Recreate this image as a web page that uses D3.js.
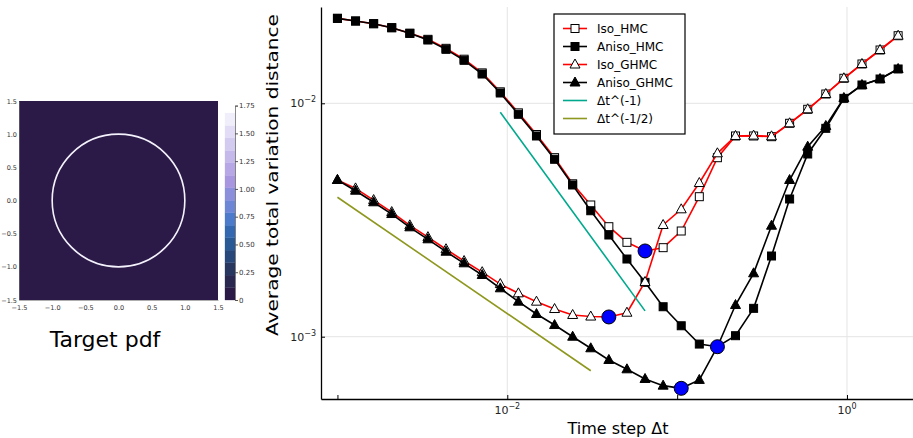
<!DOCTYPE html>
<html>
<head>
<meta charset="utf-8">
<script src="https://cdnjs.cloudflare.com/ajax/libs/d3/7.8.5/d3.min.js"></script>
<style>
body { margin: 0; background: #fff; }
text { font-family: "DejaVu Sans", sans-serif; }
</style>
</head>
<body>
<div id="chart"></div>
<script>
// time steps (log spaced)
var dt = [0.001, 0.001278, 0.0016333, 0.0020874, 0.0026676, 0.0034092, 0.0043569, 0.0055681,
  0.007116, 0.0090941, 0.011622, 0.014853, 0.018982, 0.024258, 0.031002, 0.03962,
  0.050634, 0.06471, 0.082698, 0.10569, 0.13507, 0.17261, 0.2206, 0.28192,
  0.35944, 0.45936, 0.58707, 0.75024, 0.95849, 1.2248, 1.5652, 2.0];

var isoHMC = [0.02312, 0.02252, 0.02193, 0.02108, 0.01995, 0.0188, 0.0172, 0.01545,
  0.0135, 0.0112, 0.0091, 0.00735, 0.00585, 0.00452, 0.003667, 0.00296,
  0.002537, 0.00233, 0.002407, 0.002837, 0.00398, 0.005847, 0.007244, 0.007244,
  0.007194, 0.00821, 0.009426, 0.01096, 0.0128, 0.01474, 0.01692, 0.01948];

var anisoHMC = [0.02312, 0.02252, 0.02193, 0.02108, 0.01995, 0.01867, 0.01703, 0.01528,
  0.01335, 0.01107, 0.008972, 0.007244, 0.005756, 0.004467, 0.003465, 0.002727,
  0.002152, 0.00171, 0.001344, 0.001114, 0.00093, 0.000906, 0.00101, 0.001323,
  0.002217, 0.00389, 0.006064, 0.007813, 0.0105, 0.01198, 0.01271, 0.01403];

var isoGHMC = [0.004692, 0.00432, 0.00385, 0.00342, 0.003, 0.00267, 0.00237, 0.00211,
  0.00189, 0.001681, 0.001534, 0.001413, 0.001314, 0.001239, 0.00122, 0.001215,
  0.001267, 0.001716, 0.00301, 0.003514, 0.004555, 0.006106, 0.007244, 0.00727,
  0.00722, 0.00821, 0.009426, 0.01096, 0.0128, 0.01474, 0.01692, 0.01948];

var anisoGHMC = [0.004692, 0.004222, 0.003766, 0.003354, 0.002942, 0.002614, 0.002313, 0.002063,
  0.001838, 0.001612, 0.001413, 0.001251, 0.001122, 0.001, 0.000892, 0.000795,
  0.000725, 0.000659, 0.000617, 0.000601, 0.000653, 0.000906, 0.001367, 0.001869,
  0.002989, 0.004692, 0.006519, 0.007994, 0.01054, 0.01198, 0.01271, 0.01403];

// reference slopes
var refInvX = [0.0090941, 0.06471];
var refInvY = [0.00915, 0.00129];
var refSqrtX = [0.001, 0.031002];
var refSqrtY = [0.003957, 0.0007147];

var xTicks = [0.001, 0.01, 0.1, 1];
var xTickLabels = ['', '−2', '', '0'];
var yTicks = [0.001, 0.01];
var yTickLabels = ['−3', '−2'];

// target pdf panel
var heatTicks = [-1.5, -1.0, -0.5, 0.0, 0.5, 1.0, 1.5];
var ringRadius = 1;
var cbarTicks = [0, 0.25, 0.5, 0.75, 1.0, 1.25, 1.5, 1.75];
var cbarLevels = [0, 0.112, 0.224, 0.337, 0.449, 0.561, 0.673, 0.785, 0.898, 1.01, 1.122,
  1.234, 1.346, 1.459, 1.571, 1.683];
var cbarColors = ['#2b1a47', '#2a2850', '#283760', '#28477a', '#2a5a96', '#3468b0', '#4d7bcb',
  '#6e86d6', '#8b8fdc', '#a896e0', '#b7a7e6', '#c5b9ec', '#d4cbf1', '#e2dcf6', '#f0eefa'];

var width = 913, height = 438;

var svg = d3.select('#chart').append('svg')
  .attr('width', width)
  .attr('height', height);

// ---------- left panel ----------
var hx = d3.scaleLinear().domain([-1.5, 1.5]).range([19, 218]);
var hy = d3.scaleLinear().domain([-1.5, 1.5]).range([300, 101]);

svg.append('rect')
  .attr('x', hx(-1.5)).attr('y', hy(1.5))
  .attr('width', hx(1.5) - hx(-1.5)).attr('height', hy(-1.5) - hy(1.5))
  .attr('fill', cbarColors[0]);

svg.append('ellipse')
  .attr('cx', hx(0)).attr('cy', hy(0))
  .attr('rx', hx(ringRadius) - hx(0)).attr('ry', hy(0) - hy(ringRadius))
  .attr('fill', 'none').attr('stroke', '#f4f2fc').attr('stroke-width', 1.6);

var hAxisL = svg.append('g').attr('transform', 'translate(' + hx(-1.5) + ',0)')
  .call(d3.axisLeft(hy).tickValues(heatTicks).tickFormat(d3.format('.1f')).tickSize(0).tickPadding(2));
var hAxisB = svg.append('g').attr('transform', 'translate(0,' + hy(-1.5) + ')')
  .call(d3.axisBottom(hx).tickValues(heatTicks).tickFormat(d3.format('.1f')).tickSize(0).tickPadding(5));
[hAxisL, hAxisB].forEach(a => {
  a.select('.domain').attr('stroke', '#777').attr('stroke-width', 0.6);
  a.selectAll('text').attr('font-size', 6.5).attr('fill', '#333').attr('font-family', '"DejaVu Sans", sans-serif');
});

// colorbar
var cy = d3.scaleLinear().domain([0, 1.75]).range([300, 105.6]);
svg.append('g').selectAll('rect')
  .data(cbarColors)
  .enter().append('rect')
  .attr('x', 225)
  .attr('y', (d, i) => cy(cbarLevels[i + 1]))
  .attr('width', 10)
  .attr('height', (d, i) => cy(cbarLevels[i]) - cy(cbarLevels[i + 1]))
  .attr('fill', d => d)
  .attr('stroke', d => d).attr('stroke-width', 0.3);

var cAxis = svg.append('g').attr('transform', 'translate(235,0)')
  .call(d3.axisRight(cy).tickValues(cbarTicks).tickSize(3).tickPadding(1)
    .tickFormat(d => d === 0 ? '0' : d.toFixed(2)));
cAxis.select('.domain').attr('stroke', '#555').attr('stroke-width', 0.7);
cAxis.selectAll('line').attr('stroke', '#555');
cAxis.selectAll('text').attr('font-size', 7).attr('fill', '#333').attr('font-family', '"DejaVu Sans", sans-serif');

svg.append('text')
  .attr('x', 105).attr('y', 347)
  .attr('text-anchor', 'middle')
  .attr('font-size', 22)
  .text('Target pdf');

// ---------- main panel ----------
var pLeft = 321, pRight = 913, pTop = 7, pBottom = 399;
var x = d3.scaleLog().domain([Math.pow(10, -3.0968), Math.pow(10, 0.3886)]).range([pLeft, pRight]);
var y = d3.scaleLog().domain([Math.pow(10, -3.2669), Math.pow(10, -1.5874)]).range([pBottom, pTop]);

svg.append('clipPath').attr('id', 'plotclip')
  .append('rect').attr('x', pLeft).attr('y', pTop).attr('width', pRight - pLeft).attr('height', pBottom - pTop);

// grid
svg.append('g').selectAll('line').data([0.01, 1]).enter().append('line')
  .attr('x1', d => x(d)).attr('x2', d => x(d)).attr('y1', pTop).attr('y2', pBottom)
  .attr('stroke', '#e4e4e4').attr('stroke-width', 1);
svg.append('g').selectAll('line').data(yTicks).enter().append('line')
  .attr('y1', d => y(d)).attr('y2', d => y(d)).attr('x1', pLeft).attr('x2', pRight)
  .attr('stroke', '#e4e4e4').attr('stroke-width', 1);

// axes
var xAxis = svg.append('g').attr('transform', 'translate(0,' + pBottom + ')')
  .call(d3.axisBottom(x).tickValues(xTicks).tickSizeInner(-4).tickSizeOuter(0).tickFormat(''));
var yAxis = svg.append('g').attr('transform', 'translate(' + pLeft + ',0)')
  .call(d3.axisLeft(y).tickValues(yTicks).tickSizeInner(-4).tickSizeOuter(0).tickFormat(''));
[xAxis, yAxis].forEach(a => {
  a.select('.domain').attr('stroke', '#000').attr('stroke-width', 1.3);
  a.selectAll('line').attr('stroke', '#000');
});

// power-of-ten tick labels
xTicks.forEach((d, i) => {
  if (!xTickLabels[i]) return;
  var t = svg.append('text').attr('x', x(d)).attr('y', 414).attr('text-anchor', 'middle')
    .attr('font-size', 11).attr('fill', '#222');
  t.append('tspan').text('10');
  t.append('tspan').attr('dy', -5).attr('font-size', 8).text(xTickLabels[i]);
});
yTicks.forEach((d, i) => {
  var t = svg.append('text').attr('x', 316).attr('y', y(d) + 4).attr('text-anchor', 'end')
    .attr('font-size', 11).attr('fill', '#222');
  t.append('tspan').text('10');
  t.append('tspan').attr('dy', -5).attr('font-size', 8).text(yTickLabels[i]);
});

svg.append('text')
  .attr('transform', 'translate(278,175) rotate(-90)')
  .attr('text-anchor', 'middle')
  .attr('font-size', 16)
  .attr('textLength', 322).attr('lengthAdjust', 'spacingAndGlyphs')
  .text('Average total variation distance');

svg.append('text')
  .attr('x', 618).attr('y', 434)
  .attr('text-anchor', 'middle')
  .attr('font-size', 16)
  .text('Time step Δt');

// series
var plot = svg.append('g').attr('clip-path', 'url(#plotclip)');
var line = d3.line().x(d => x(d[0])).y(d => y(d[1]));

var triPath = 'M0,-5.5L5,3.5L-5,3.5Z';

var series = [
  { name: 'Iso_HMC', vals: isoHMC, color: '#ff0000', marker: 'square', fill: '#fff' },
  { name: 'Aniso_HMC', vals: anisoHMC, color: '#000', marker: 'square', fill: '#000' },
  { name: 'Iso_GHMC', vals: isoGHMC, color: '#ff0000', marker: 'tri', fill: '#fff' },
  { name: 'Aniso_GHMC', vals: anisoGHMC, color: '#000', marker: 'tri', fill: '#000' }
];

function drawMarker(g, type, fill, px, py) {
  if (type === 'square') {
    g.append('rect').attr('x', px - 4).attr('y', py - 4).attr('width', 8).attr('height', 8)
      .attr('fill', fill).attr('stroke', '#000').attr('stroke-width', 1);
  } else {
    g.append('path').attr('d', triPath).attr('transform', 'translate(' + px + ',' + py + ')')
      .attr('fill', fill).attr('stroke', '#000').attr('stroke-width', 1);
  }
}

series.forEach(s => {
  var pts = dt.map((d, i) => [d, s.vals[i]]);
  plot.append('path').datum(pts).attr('d', line)
    .attr('fill', 'none').attr('stroke', s.color).attr('stroke-width', 1.6);
  var mg = plot.append('g');
  pts.forEach(p => drawMarker(mg, s.marker, s.fill, x(p[0]), y(p[1])));
});

var refs = [
  { name: 'Δt^(-1)', xs: refInvX, ys: refInvY, color: '#00a98d' },
  { name: 'Δt^(-1/2)', xs: refSqrtX, ys: refSqrtY, color: '#8e971e' }
];
refs.forEach(r => {
  plot.append('path').datum(r.xs.map((d, i) => [d, r.ys[i]])).attr('d', line)
    .attr('fill', 'none').attr('stroke', r.color).attr('stroke-width', 1.6);
});

// minima
series.forEach(s => {
  var k = d3.minIndex(s.vals);
  plot.append('circle').attr('cx', x(dt[k])).attr('cy', y(s.vals[k])).attr('r', 7)
    .attr('fill', '#0000ff').attr('stroke', '#000').attr('stroke-width', 1);
});

// legend
var lg = svg.append('g');
lg.append('rect').attr('x', 554).attr('y', 14).attr('width', 131).attr('height', 120)
  .attr('fill', '#fff').attr('stroke', '#000').attr('stroke-width', 1.2);
var items = series.concat(refs);
items.forEach((s, i) => {
  var ly = 28.5 + i * 18;
  lg.append('line').attr('x1', 563).attr('x2', 587).attr('y1', ly).attr('y2', ly)
    .attr('stroke', s.color).attr('stroke-width', 1.6);
  if (s.marker) drawMarker(lg, s.marker, s.fill, 575, ly);
  lg.append('text').attr('x', 597).attr('y', ly + 4.5).attr('font-size', 12).text(s.name);
});
</script>
</body>
</html>
